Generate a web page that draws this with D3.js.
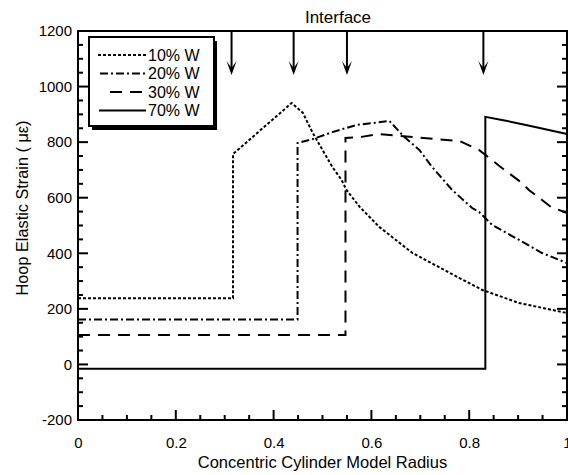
<!DOCTYPE html>
<html>
<head>
<meta charset="utf-8">
<script src="https://cdn.jsdelivr.net/npm/d3@7"></script>
<style>
  body { margin: 0; background: #fff; }
  svg { font-family: "Liberation Sans", Arial, sans-serif; }
</style>
</head>
<body>
<script>
// series: [radius, strain]
const w10 = [[0, 238], [0.317, 238], [0.317, 757], [0.437, 941], [0.46, 905], [0.48, 833],
             [0.50, 772], [0.52, 711], [0.539, 664], [0.549, 628], [0.576, 567], [0.616, 495],
             [0.684, 401], [0.78, 311], [0.827, 268], [0.902, 221], [1.0, 185]];
const w20 = [[0, 162], [0.449, 162], [0.449, 797], [0.48, 811], [0.52, 836], [0.57, 862],
             [0.637, 876], [0.667, 819], [0.698, 772], [0.724, 711], [0.765, 628], [0.806, 563],
             [0.82, 549], [0.847, 502], [0.902, 448], [0.949, 401], [1.0, 365]];
const w30 = [[0, 106], [0.547, 106], [0.547, 815], [0.58, 819], [0.616, 829], [0.78, 804],
             [0.82, 772], [0.867, 707], [0.908, 653], [0.922, 628], [0.949, 592], [0.967, 567],
             [1.0, 545]];
const w70 = [[0, -16], [0.833, -16], [0.833, 891], [0.867, 880], [0.916, 862], [1.0, 829]];

const seriesNames = ['10% W', '20% W', '30% W', '70% W'];
const interfaces = [0.314, 0.441, 0.55, 0.829];
const xTicks = [0, 0.2, 0.4, 0.6, 0.8, 1];
const yTicks = [-200, 0, 200, 400, 600, 800, 1000, 1200];

const width = 568, height = 475;
const margin = { left: 78, right: 1, top: 31, bottom: 55 };

const x = d3.scaleLinear().domain([0, 1]).range([margin.left, width - margin.right]);
const y = d3.scaleLinear().domain([-200, 1200]).range([height - margin.bottom, margin.top]);

const svg = d3.select('body').append('svg')
  .attr('width', width)
  .attr('height', height);

// data lines
const dashes = ['3,2', '8,3,2,3', '12,8', null];
const line = d3.line().x(d => x(d[0])).y(d => y(d[1]));

svg.append('g').selectAll('path')
  .data([w10, w20, w30, w70])
  .enter()
  .append('path')
  .attr('d', line)
  .attr('fill', 'none')
  .attr('stroke', '#000')
  .attr('stroke-width', 2)
  .attr('stroke-dasharray', (d, i) => dashes[i]);

// tick labels from d3 axes
svg.append('g')
  .attr('transform', `translate(0,${y(-200)})`)
  .call(d3.axisBottom(x).tickValues(xTicks).tickSize(0).tickPadding(17)
    .tickFormat(d => d === 0 || d === 1 ? String(d) : d3.format('.1f')(d)));
svg.append('g')
  .attr('transform', `translate(${x(0)},0)`)
  .call(d3.axisLeft(y).tickValues(yTicks).tickSize(0).tickPadding(6)
    .tickFormat(d => String(d)));

svg.selectAll('.domain').remove();
svg.selectAll('.tick line').remove();
svg.selectAll('.tick text').attr('fill', '#000').style('font-size', '15px');

svg.append('rect')
  .attr('x', x(0)).attr('y', y(1200))
  .attr('width', x(1) - x(0)).attr('height', y(-200) - y(1200))
  .attr('fill', 'none').attr('stroke', '#000').attr('stroke-width', 2);

// tick marks, pointing into the frame
const minorX = d3.range(0, 21).map(i => i / 20),
      minorY = d3.range(-200, 1201, 50);
const isMajorX = v => xTicks.some(t => Math.abs(t - v) < 1e-9),
      isMajorY = v => yTicks.includes(v);
const ticks = svg.append('g').attr('stroke', '#000').attr('stroke-width', 2);

minorX.forEach(function(v) {
  const len = isMajorX(v) ? 10 : 5;
  ticks.append('line')
    .attr('x1', x(v)).attr('x2', x(v))
    .attr('y1', y(-200)).attr('y2', y(-200) - len);
});
minorY.forEach(function(v) {
  const len = isMajorY(v) ? 10 : 5;
  ticks.append('line')
    .attr('x1', x(0)).attr('x2', x(0) + len)
    .attr('y1', y(v)).attr('y2', y(v));
  ticks.append('line')
    .attr('x1', x(1)).attr('x2', x(1) - len)
    .attr('y1', y(v)).attr('y2', y(v));
});

// interface arrows
const arrows = svg.append('g');
interfaces.forEach(function(r) {
  const ax = x(r), top = y(1200);
  arrows.append('line')
    .attr('x1', ax).attr('x2', ax).attr('y1', top).attr('y2', top + 40)
    .attr('stroke', '#000').attr('stroke-width', 2);
  arrows.append('path')
    .attr('d', `M${ax - 5},${top + 30} L${ax},${top + 44} L${ax + 5},${top + 30} L${ax},${top + 37} Z`)
    .attr('fill', '#000');
});

svg.append('text')
  .attr('x', 338).attr('y', 23)
  .attr('text-anchor', 'middle')
  .style('font-size', '17px')
  .text('Interface');

// axis titles
svg.append('text')
  .attr('x', (x(0) + x(1)) / 2).attr('y', 468)
  .attr('text-anchor', 'middle')
  .style('font-size', '16.5px')
  .text('Concentric Cylinder Model Radius');

svg.append('text')
  .attr('transform', 'translate(28,208) rotate(-90)')
  .attr('text-anchor', 'middle')
  .style('font-size', '16.3px')
  .text('Hoop Elastic Strain ( \u03bc\u03b5)');

// legend
const legend = svg.append('g').attr('id', 'legend');
legend.append('rect')
  .attr('x', 92).attr('y', 41).attr('width', 125).attr('height', 89)
  .attr('fill', '#000');
legend.append('rect')
  .attr('x', 89).attr('y', 37).attr('width', 125).attr('height', 89)
  .attr('fill', '#fff').attr('stroke', '#000').attr('stroke-width', 2);

const legendStart = [98, 100, 110, 99];
seriesNames.forEach(function(name, i) {
  const ly = 55 + i * 18.5;
  legend.append('line')
    .attr('x1', legendStart[i]).attr('x2', 146).attr('y1', ly).attr('y2', ly)
    .attr('stroke', '#000').attr('stroke-width', 2)
    .attr('stroke-dasharray', dashes[i]);
  legend.append('text')
    .attr('x', 148).attr('y', ly)
    .attr('dy', '0.36em')
    .style('font-size', '16px')
    .text(name);
});
</script>
</body>
</html>
